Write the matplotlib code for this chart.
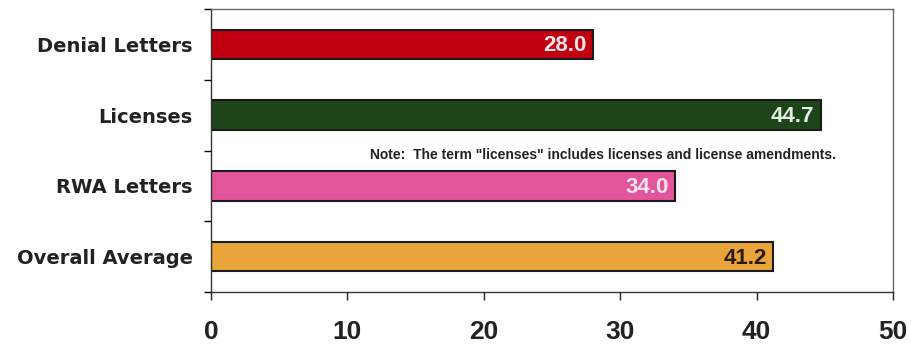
import matplotlib
matplotlib.use("Agg")
import matplotlib.pyplot as plt

categories = ["Denial Letters", "Licenses", "RWA Letters", "Overall Average"]
values = [28.0, 44.7, 34.0, 41.2]
bar_colors = ["#C00010", "#1E4419", "#E2559A", "#E9A53A"]
label_colors = ["#F4E6E6", "#E6EEE6", "#F8E4EE", "#2A1A10"]
x_ticks = [0, 10, 20, 30, 40, 50]
note = 'Note:  The term "licenses" includes licenses and license amendments.'

plt.rcParams["font.family"] = ["Liberation Sans", "DejaVu Sans"]

fig = plt.figure(figsize=(9.11, 3.45), dpi=100)
ax = fig.add_axes([211 / 911, 53 / 345, 682 / 911, 283 / 345])

y = list(range(len(categories)))
ax.barh(y, values, height=0.42, color=bar_colors, edgecolor="#1a1a1a", linewidth=1.5)

for yi, v, c in zip(y, values, label_colors):
    ax.text(v - 0.45, yi + 0.02, f"{v:.1f}", ha="right", va="center",
            fontsize=16, fontweight="bold", color=c)

ax.text(45.8, 1.57, note, ha="right", va="center", fontsize=10,
        fontweight="bold", color="#222222")

ax.set_xlim(0, 50)
ax.set_ylim(3.5, -0.5)
ax.set_xticks(x_ticks)
ax.set_xticklabels([str(t) for t in x_ticks], fontsize=19, fontweight="bold")
ax.set_yticks(y)
ax.set_yticklabels(categories, fontsize=14, fontweight="bold", color="#222222",
                   family="DejaVu Sans")
ax.set_yticks([-0.5, 0.5, 1.5, 2.5, 3.5], minor=True)
ax.tick_params(axis="y", which="major", length=0, pad=13)
ax.tick_params(axis="y", which="minor", length=5, width=1, direction="out")
ax.tick_params(axis="x", length=6, width=1, direction="out", pad=14, colors="#222222")
for name, s in ax.spines.items():
    s.set_linewidth(1.0)
    s.set_color("#333333" if name in ("left", "bottom") else "#666666")

fig.savefig("out.png", dpi=100, facecolor="white")
